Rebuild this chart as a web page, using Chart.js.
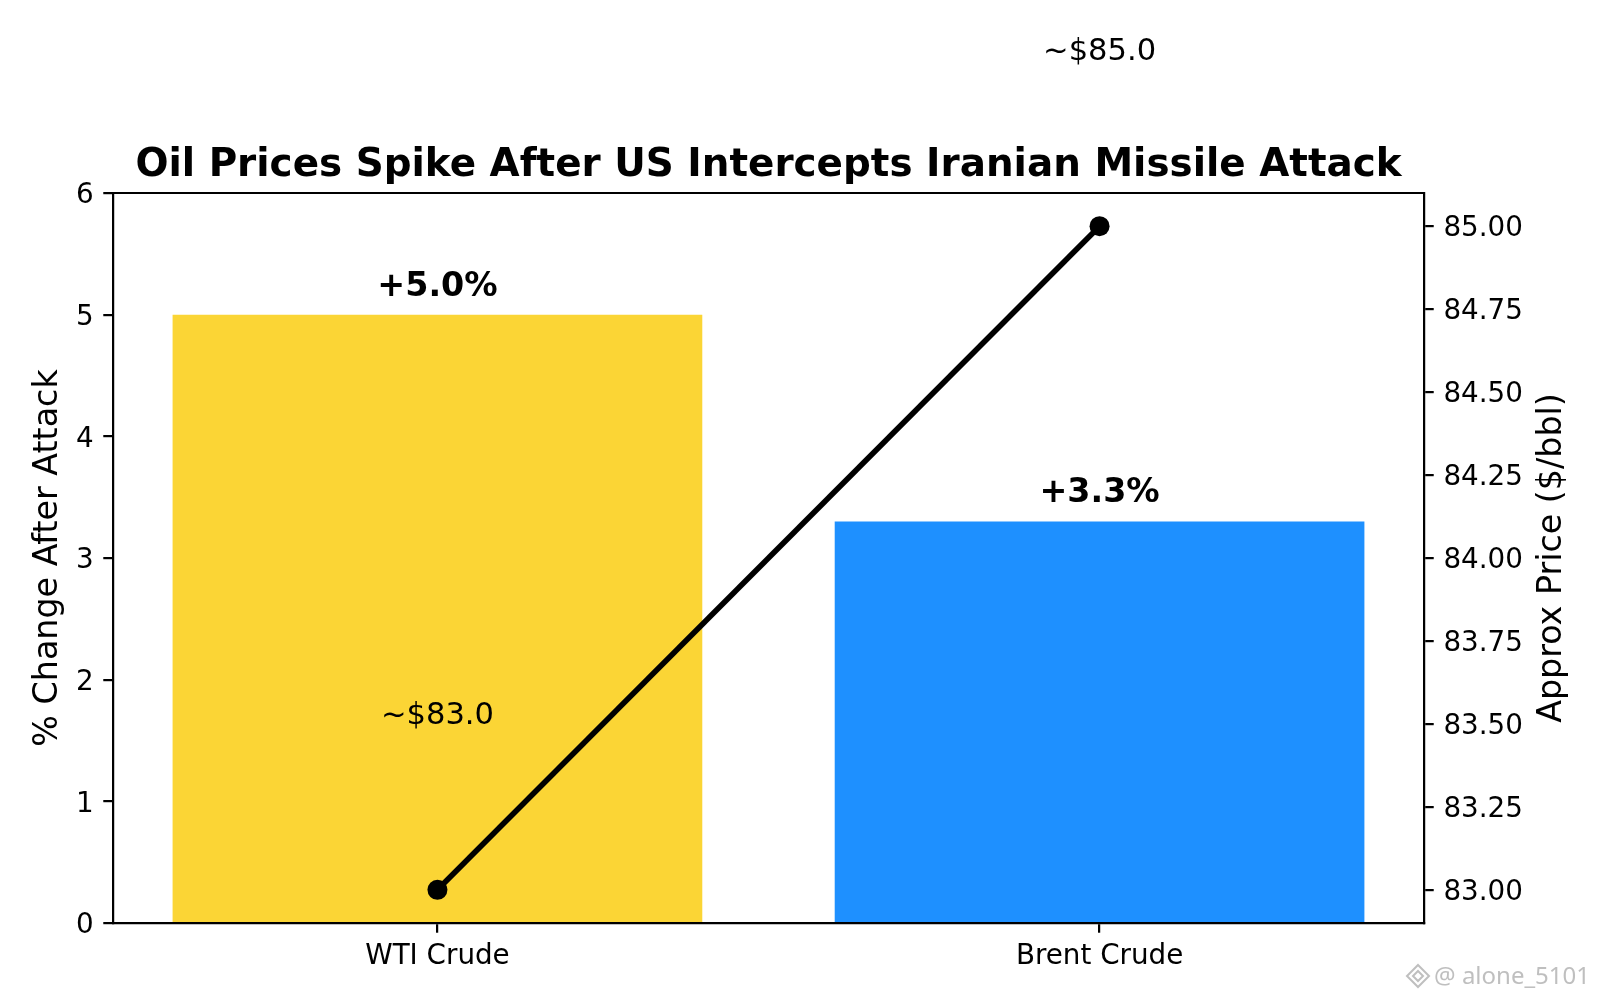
<!DOCTYPE html>
<html>
<head>
<meta charset="utf-8">
<title>Oil Prices Spike After US Intercepts Iranian Missile Attack</title>
<script src="https://cdn.jsdelivr.net/npm/chart.js@4.4.1/dist/chart.umd.min.js"></script>
<style>
  html, body { margin: 0; padding: 0; background: #fff; }
  #chart { display: block; }
</style>
</head>
<body>
<canvas id="chart" width="1600" height="1000"></canvas>
<script>
// chart data
const categories = ["WTI Crude", "Brent Crude"];
const pctChange = [5.0, 3.3];
const approxPrice = [83.0, 85.0];
const pctTicks = [0, 1, 2, 3, 4, 5, 6];
const priceTicks = [83.0, 83.25, 83.5, 83.75, 84.0, 84.25, 84.5, 84.75, 85.0];
const barColors = ["#FBD535", "#1E90FF"];

const PT = 200 / 72; // matplotlib points -> px at 200 dpi
const FONT = "DejaVu Sans";
Chart.defaults.font.family = FONT;
Chart.defaults.color = "#000";

const axisGrid = {
  drawOnChartArea: false,
  drawTicks: true,
  tickLength: 3.5 * PT,
  color: "#000",
  lineWidth: 0.8 * PT,
  offset: false
};
const axisBorder = { display: true, color: "#000", width: 0.8 * PT };
const tickFont = { family: FONT, size: 10 * PT };

// titles, value labels and watermark
const textPlugin = {
  id: "texts",
  afterDraw(chart) {
    const ctx = chart.ctx;
    const area = chart.chartArea;
    const x = chart.scales.x, y = chart.scales.y, y2 = chart.scales.y2;
    ctx.save();

    // top spine
    ctx.strokeStyle = "#000";
    ctx.lineWidth = 0.8 * PT;
    ctx.beginPath();
    ctx.moveTo(area.left, area.top);
    ctx.lineTo(area.right, area.top);
    ctx.stroke();

    ctx.fillStyle = "#000";
    ctx.textAlign = "center";
    ctx.textBaseline = "alphabetic";

    // title
    ctx.font = "bold " + (14 * PT) + "px '" + FONT + "'";
    ctx.fillText("Oil Prices Spike After US Intercepts Iranian Missile Attack",
      (area.left + area.right) / 2, area.top - 6 * PT);

    // bar labels
    const barSize = 12 * PT;
    ctx.font = "bold " + barSize + "px '" + FONT + "'";
    categories.forEach((c, i) => {
      ctx.fillText("+" + pctChange[i].toFixed(1) + "%", x.getPixelForValue(i),
        y.getPixelForValue(pctChange[i] + 0.1) - 0.208 * barSize);
    });

    // price labels
    ctx.font = (11 * PT) + "px '" + FONT + "'";
    categories.forEach((c, i) => {
      ctx.fillText("~$" + approxPrice[i].toFixed(1), x.getPixelForValue(i),
        y2.getPixelForValue(approxPrice[i] + 0.5));
    });

    // axis titles
    const midY = (area.top + area.bottom) / 2;
    ctx.font = (12 * PT) + "px '" + FONT + "'";
    ctx.save();
    ctx.translate(57, midY);
    ctx.rotate(-Math.PI / 2);
    ctx.fillText("% Change After Attack", 0, 0);
    ctx.restore();
    ctx.save();
    ctx.translate(1561, midY);
    ctx.rotate(-Math.PI / 2);
    ctx.fillText("Approx Price ($/bbl)", 0, 0);
    ctx.restore();

    // watermark
    ctx.fillStyle = "rgba(170,170,170,0.75)";
    ctx.strokeStyle = "rgba(170,170,170,0.75)";
    ctx.lineWidth = 2;
    ctx.textAlign = "right";
    ctx.font = "24px 'Noto Sans'";
    ctx.fillText("@ alone_5101", 1590, 984);
    ctx.beginPath();
    ctx.moveTo(1418, 965); ctx.lineTo(1429, 976); ctx.lineTo(1418, 987); ctx.lineTo(1407, 976);
    ctx.closePath();
    ctx.stroke();
    ctx.beginPath();
    ctx.moveTo(1418, 971); ctx.lineTo(1423, 976); ctx.lineTo(1418, 981); ctx.lineTo(1413, 976);
    ctx.closePath();
    ctx.stroke();

    ctx.restore();
  }
};

new Chart(document.getElementById("chart"), {
  type: "bar",
  data: {
    datasets: [
      {
        type: "line",
        label: "Approx Price",
        data: categories.map((c, i) => ({ x: i, y: approxPrice[i] })),
        yAxisID: "y2",
        borderColor: "#000",
        borderWidth: 2 * PT,
        pointRadius: 10,
        pointBackgroundColor: "#000",
        pointBorderWidth: 0,
        tension: 0,
        order: 0
      },
      {
        type: "bar",
        label: "% Change",
        data: categories.map((c, i) => ({ x: i, y: pctChange[i] })),
        yAxisID: "y",
        backgroundColor: barColors,
        borderWidth: 0,
        barPercentage: 0.8,
        categoryPercentage: 1.0,
        order: 1
      }
    ]
  },
  options: {
    responsive: false,
    devicePixelRatio: 1,
    animation: false,
    layout: { padding: { top: 193, left: 0, right: 0, bottom: 0 } },
    plugins: {
      legend: { display: false },
      tooltip: { enabled: false },
      title: { display: false }
    },
    scales: {
      x: {
        type: "linear",
        position: "bottom",
        min: -0.49,
        max: 1.49,
        offset: false,
        afterBuildTicks: (s) => { s.ticks = categories.map((c, i) => ({ value: i })); },
        afterFit: (s) => { s.height = 77; },
        ticks: {
          callback: (v) => categories[v],
          font: tickFont,
          color: "#000",
          padding: 3.5 * PT - 2,
          autoSkip: false,
          maxRotation: 0
        },
        grid: axisGrid,
        border: axisBorder
      },
      y: {
        type: "linear",
        position: "left",
        min: 0,
        max: 6,
        afterBuildTicks: (s) => { s.ticks = pctTicks.map((v) => ({ value: v })); },
        afterFit: (s) => { s.width = 113; },
        ticks: {
          callback: (v) => String(v),
          font: tickFont,
          color: "#000",
          padding: 3.5 * PT,
          labelOffset: 3
        },
        grid: axisGrid,
        border: axisBorder
      },
      y2: {
        type: "linear",
        position: "right",
        min: 82.9,
        max: 85.1,
        afterBuildTicks: (s) => { s.ticks = priceTicks.map((v) => ({ value: v })); },
        afterFit: (s) => { s.width = 176; },
        ticks: {
          callback: (v) => v.toFixed(2),
          font: tickFont,
          color: "#000",
          padding: 3.5 * PT,
          labelOffset: 3
        },
        grid: axisGrid,
        border: axisBorder
      }
    }
  },
  plugins: [textPlugin]
});
</script>
</body>
</html>
